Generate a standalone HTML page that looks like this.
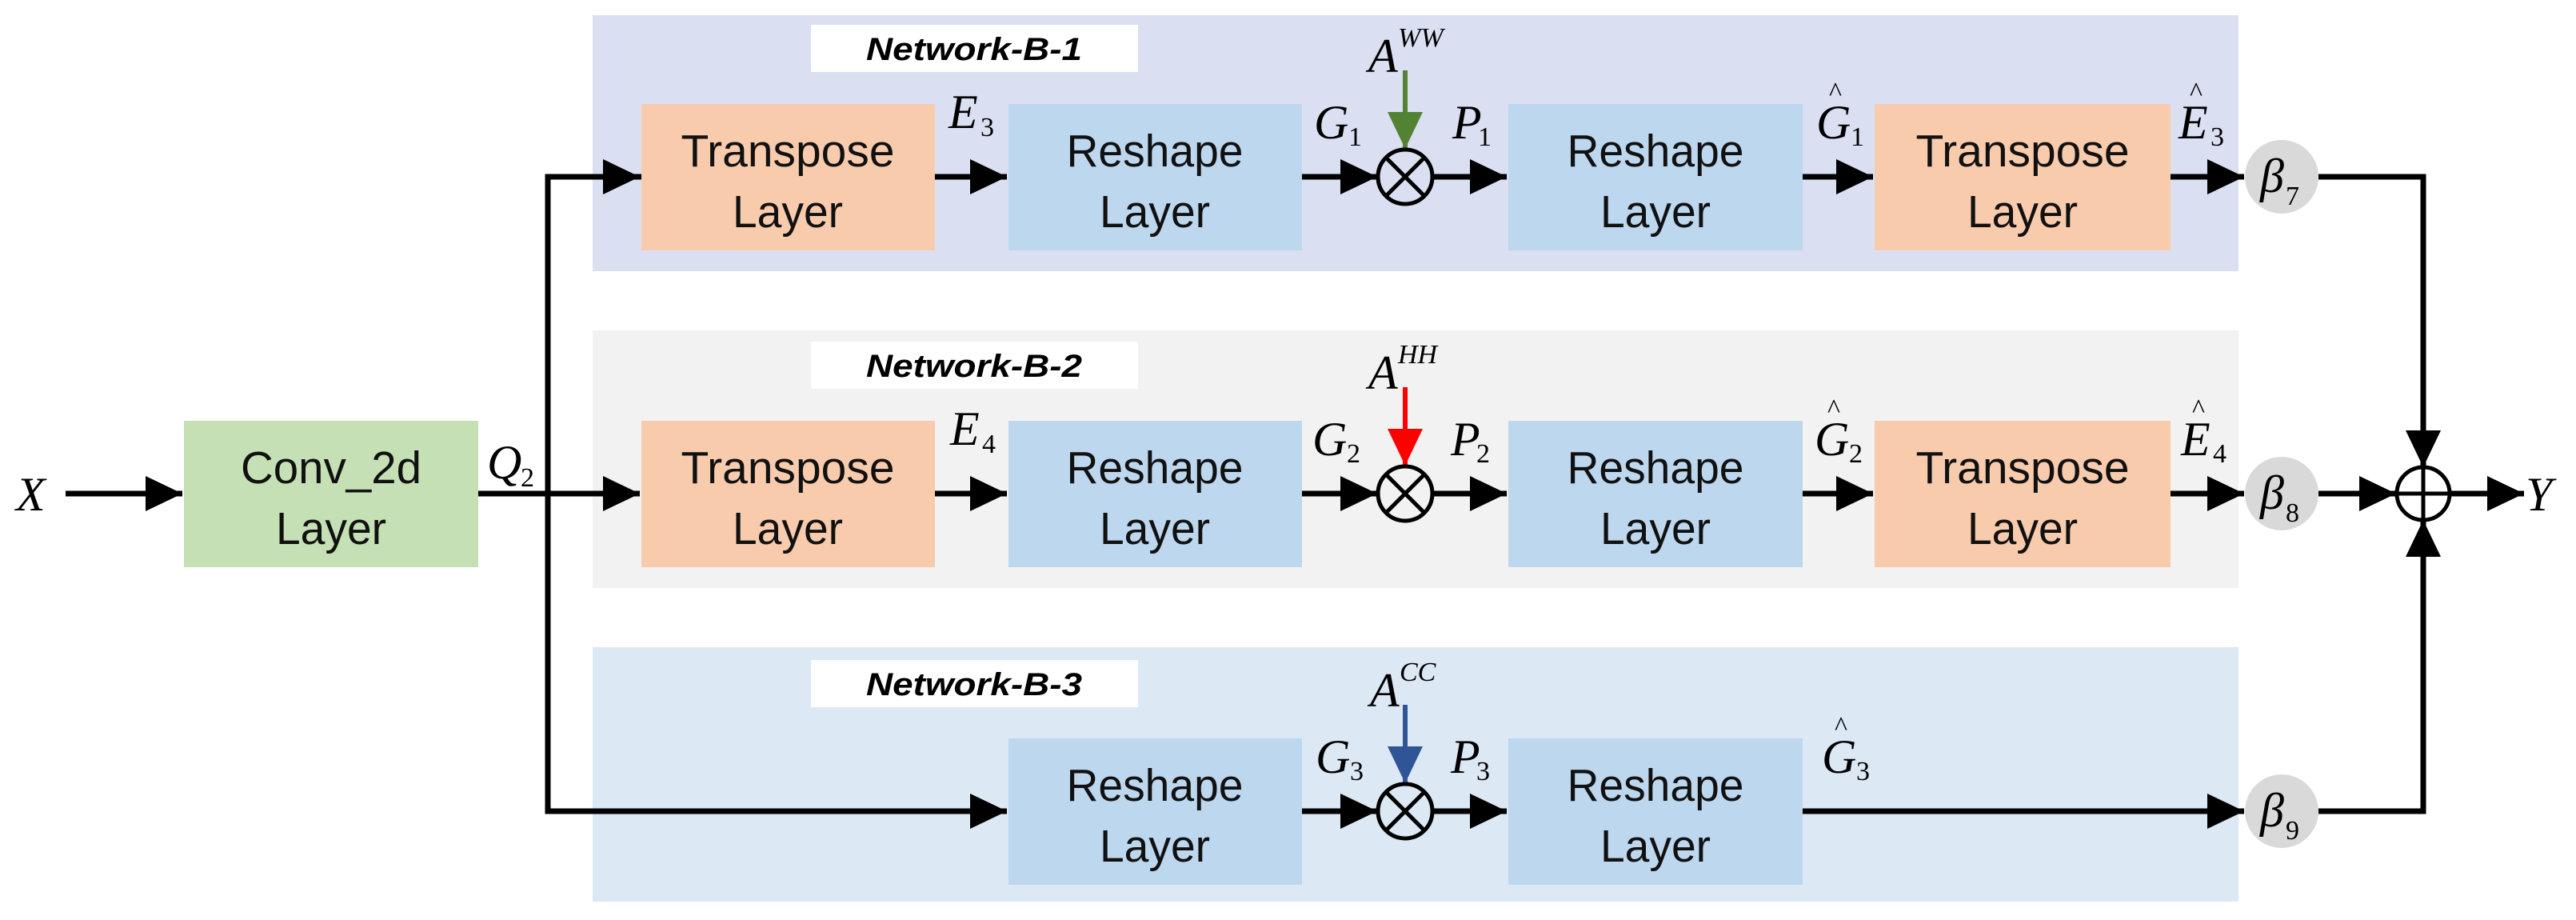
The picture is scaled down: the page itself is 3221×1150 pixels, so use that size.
<!DOCTYPE html>
<html><head><meta charset="utf-8"><style>
html,body{margin:0;padding:0;background:#fff;}
svg{display:block}
.lt{font-family:"Liberation Sans",sans-serif;font-size:57px;fill:#111;}
.nl{font-family:"Liberation Sans",sans-serif;font-size:40px;font-weight:bold;font-style:italic;fill:#000;}
.m{font-family:"Liberation Serif",serif;font-style:italic;font-size:60px;fill:#000;}
.s{font-family:"Liberation Serif",serif;font-size:34px;fill:#000;}
.sp{font-family:"Liberation Serif",serif;font-style:italic;font-size:34px;fill:#000;}
</style></head><body>
<svg width="3221" height="1150" viewBox="0 0 3221 1150" xmlns="http://www.w3.org/2000/svg">
<defs>
<marker id="ah" markerWidth="46" markerHeight="44" refX="46" refY="22" markerUnits="userSpaceOnUse" orient="auto"><path d="M0,0 L46,22 L0,44 Z" fill="#000"/></marker>
<marker id="ag" markerWidth="46" markerHeight="44" refX="46" refY="22" markerUnits="userSpaceOnUse" orient="auto"><path d="M0,0 L46,22 L0,44 Z" fill="#548235"/></marker>
<marker id="ar" markerWidth="46" markerHeight="44" refX="46" refY="22" markerUnits="userSpaceOnUse" orient="auto"><path d="M0,0 L46,22 L0,44 Z" fill="#ff0000"/></marker>
<marker id="ab" markerWidth="46" markerHeight="44" refX="46" refY="22" markerUnits="userSpaceOnUse" orient="auto"><path d="M0,0 L46,22 L0,44 Z" fill="#2f5597"/></marker>
</defs>
<rect x="741" y="19" width="2058" height="320" fill="#dae0f2"/>
<rect x="741" y="413" width="2058" height="322" fill="#f2f2f2"/>
<rect x="741" y="809" width="2058" height="318" fill="#dde8f5"/>
<rect x="1014" y="31" width="409" height="59" fill="#fff"/>
<rect x="1014" y="427" width="409" height="59" fill="#fff"/>
<rect x="1014" y="825" width="409" height="59" fill="#fff"/>
<text class="nl" x="1218" y="75" text-anchor="middle" textLength="270" lengthAdjust="spacingAndGlyphs">Network-B-1</text>
<text class="nl" x="1218" y="471" text-anchor="middle" textLength="270" lengthAdjust="spacingAndGlyphs">Network-B-2</text>
<text class="nl" x="1218" y="869" text-anchor="middle" textLength="270" lengthAdjust="spacingAndGlyphs">Network-B-3</text>

<rect x="230" y="526" width="368" height="183" fill="#c5e0b4"/>
<g fill="#f8cbad">
<rect x="802" y="130" width="367" height="183"/>
<rect x="802" y="526" width="367" height="183"/>
<rect x="2344" y="130" width="370" height="183"/>
<rect x="2344" y="526" width="370" height="183"/>
</g>
<g fill="#bdd7ee">
<rect x="1261" y="130" width="367" height="183"/>
<rect x="1261" y="526" width="367" height="183"/>
<rect x="1261" y="923" width="367" height="183"/>
<rect x="1886" y="130" width="368" height="183"/>
<rect x="1886" y="526" width="368" height="183"/>
<rect x="1886" y="923" width="368" height="183"/>
</g>
<g class="lt" text-anchor="middle">
<text x="414" y="604" textLength="226" lengthAdjust="spacingAndGlyphs">Conv_2d</text><text x="414" y="680" textLength="138" lengthAdjust="spacingAndGlyphs">Layer</text>
<text x="985" y="208" textLength="267" lengthAdjust="spacingAndGlyphs">Transpose</text><text x="985" y="284" textLength="138" lengthAdjust="spacingAndGlyphs">Layer</text>
<text x="985" y="604" textLength="267" lengthAdjust="spacingAndGlyphs">Transpose</text><text x="985" y="680" textLength="138" lengthAdjust="spacingAndGlyphs">Layer</text>
<text x="2529" y="208" textLength="267" lengthAdjust="spacingAndGlyphs">Transpose</text><text x="2529" y="284" textLength="138" lengthAdjust="spacingAndGlyphs">Layer</text>
<text x="2529" y="604" textLength="267" lengthAdjust="spacingAndGlyphs">Transpose</text><text x="2529" y="680" textLength="138" lengthAdjust="spacingAndGlyphs">Layer</text>
<text x="1444" y="208" textLength="221" lengthAdjust="spacingAndGlyphs">Reshape</text><text x="1444" y="284" textLength="138" lengthAdjust="spacingAndGlyphs">Layer</text>
<text x="1444" y="604" textLength="221" lengthAdjust="spacingAndGlyphs">Reshape</text><text x="1444" y="680" textLength="138" lengthAdjust="spacingAndGlyphs">Layer</text>
<text x="1444" y="1001" textLength="221" lengthAdjust="spacingAndGlyphs">Reshape</text><text x="1444" y="1077" textLength="138" lengthAdjust="spacingAndGlyphs">Layer</text>
<text x="2070" y="208" textLength="221" lengthAdjust="spacingAndGlyphs">Reshape</text><text x="2070" y="284" textLength="138" lengthAdjust="spacingAndGlyphs">Layer</text>
<text x="2070" y="604" textLength="221" lengthAdjust="spacingAndGlyphs">Reshape</text><text x="2070" y="680" textLength="138" lengthAdjust="spacingAndGlyphs">Layer</text>
<text x="2070" y="1001" textLength="221" lengthAdjust="spacingAndGlyphs">Reshape</text><text x="2070" y="1077" textLength="138" lengthAdjust="spacingAndGlyphs">Layer</text>
</g>

<g stroke="#000" stroke-width="7" fill="none">
<line x1="82" y1="617" x2="228" y2="617" marker-end="url(#ah)"/>
<line x1="598" y1="617" x2="800" y2="617" marker-end="url(#ah)"/>
<polyline points="802,221 685,221 685,1014 1259,1014" marker-end="url(#ah)"/>
<line x1="685" y1="221" x2="800" y2="221" marker-end="url(#ah)"/>
<line x1="1169" y1="221" x2="1259" y2="221" marker-end="url(#ah)"/>
<line x1="1169" y1="617" x2="1259" y2="617" marker-end="url(#ah)"/>
<line x1="1628" y1="221" x2="1722" y2="221" marker-end="url(#ah)"/>
<line x1="1628" y1="617" x2="1722" y2="617" marker-end="url(#ah)"/>
<line x1="1628" y1="1014" x2="1722" y2="1014" marker-end="url(#ah)"/>
<line x1="1792" y1="221" x2="1884" y2="221" marker-end="url(#ah)"/>
<line x1="1792" y1="617" x2="1884" y2="617" marker-end="url(#ah)"/>
<line x1="1792" y1="1014" x2="1884" y2="1014" marker-end="url(#ah)"/>
<line x1="2254" y1="221" x2="2342" y2="221" marker-end="url(#ah)"/>
<line x1="2254" y1="617" x2="2342" y2="617" marker-end="url(#ah)"/>
<line x1="2254" y1="1014" x2="2806" y2="1014" marker-end="url(#ah)"/>
<line x1="2714" y1="221" x2="2806" y2="221" marker-end="url(#ah)"/>
<line x1="2714" y1="617" x2="2806" y2="617" marker-end="url(#ah)"/>
<polyline points="2899,221 3030,221 3030,584" marker-end="url(#ah)"/>
<polyline points="2899,1014 3030,1014 3030,650" marker-end="url(#ah)"/>
<line x1="2899" y1="617" x2="2996" y2="617" marker-end="url(#ah)"/>
<line x1="3063" y1="617" x2="3156" y2="617" marker-end="url(#ah)"/>
</g>
<line x1="1757" y1="88" x2="1757" y2="186" stroke="#548235" stroke-width="6" marker-end="url(#ag)"/>
<line x1="1757" y1="484" x2="1757" y2="582" stroke="#ff0000" stroke-width="6" marker-end="url(#ar)"/>
<line x1="1757" y1="881" x2="1757" y2="979" stroke="#2f5597" stroke-width="6" marker-end="url(#ab)"/>

<g stroke="#000" stroke-width="5" fill="none">
<circle cx="1757" cy="221" r="34"/><line x1="1733" y1="197" x2="1781" y2="245"/><line x1="1781" y1="197" x2="1733" y2="245"/>
<circle cx="1757" cy="617" r="34"/><line x1="1733" y1="593" x2="1781" y2="641"/><line x1="1781" y1="593" x2="1733" y2="641"/>
<circle cx="1757" cy="1014" r="34"/><line x1="1733" y1="990" x2="1781" y2="1038"/><line x1="1781" y1="990" x2="1733" y2="1038"/>
<circle cx="3030" cy="617" r="33" fill="#fff"/><line x1="3030" y1="584" x2="3030" y2="650"/><line x1="2997" y1="617" x2="3063" y2="617"/>
</g>
<g fill="#d9d9d9">
<circle cx="2853" cy="221" r="46"/><circle cx="2853" cy="617" r="46"/><circle cx="2853" cy="1014" r="46"/>
</g>
<text class="m" x="2826" y="240">β</text><text class="s" x="2858" y="256">7</text>
<text class="m" x="2826" y="636">β</text><text class="s" x="2858" y="652">8</text>
<text class="m" x="2826" y="1033">β</text><text class="s" x="2858" y="1049">9</text>

<text class="m" x="20" y="638">X</text>
<text class="m" x="3158" y="638">Y</text>
<text class="m" x="609" y="598">Q</text><text class="s" x="651" y="608">2</text>
<text class="m" x="1186" y="160">E</text><text class="s" x="1226" y="170">3</text>
<text class="m" x="1188" y="556">E</text><text class="s" x="1228" y="566">4</text>
<text class="m" x="1643" y="173">G</text><text class="s" x="1686" y="182">1</text>
<text class="m" x="1641" y="569">G</text><text class="s" x="1684" y="578">2</text>
<text class="m" x="1645" y="966">G</text><text class="s" x="1688" y="975">3</text>
<text class="m" x="1816" y="173">P</text><text class="s" x="1848" y="182">1</text>
<text class="m" x="1814" y="569">P</text><text class="s" x="1846" y="578">2</text>
<text class="m" x="1814" y="966">P</text><text class="s" x="1846" y="975">3</text>
<text class="m" x="1711" y="90">A</text><text class="sp" x="1748" y="58">WW</text>
<text class="m" x="1711" y="486">A</text><text class="sp" x="1748" y="454">HH</text>
<text class="m" x="1713" y="883">A</text><text class="sp" x="1750" y="851">CC</text>
<text class="m" x="2271" y="173">G</text><text class="s" x="2314" y="182">1</text><text class="s" x="2287" y="126">^</text>
<text class="m" x="2269" y="569">G</text><text class="s" x="2312" y="578">2</text><text class="s" x="2285" y="522">^</text>
<text class="m" x="2278" y="966">G</text><text class="s" x="2321" y="975">3</text><text class="s" x="2294" y="919">^</text>
<text class="m" x="2724" y="173">E</text><text class="s" x="2764" y="182">3</text><text class="s" x="2738" y="126">^</text>
<text class="m" x="2727" y="569">E</text><text class="s" x="2767" y="578">4</text><text class="s" x="2741" y="522">^</text>
</svg>
</body></html>
